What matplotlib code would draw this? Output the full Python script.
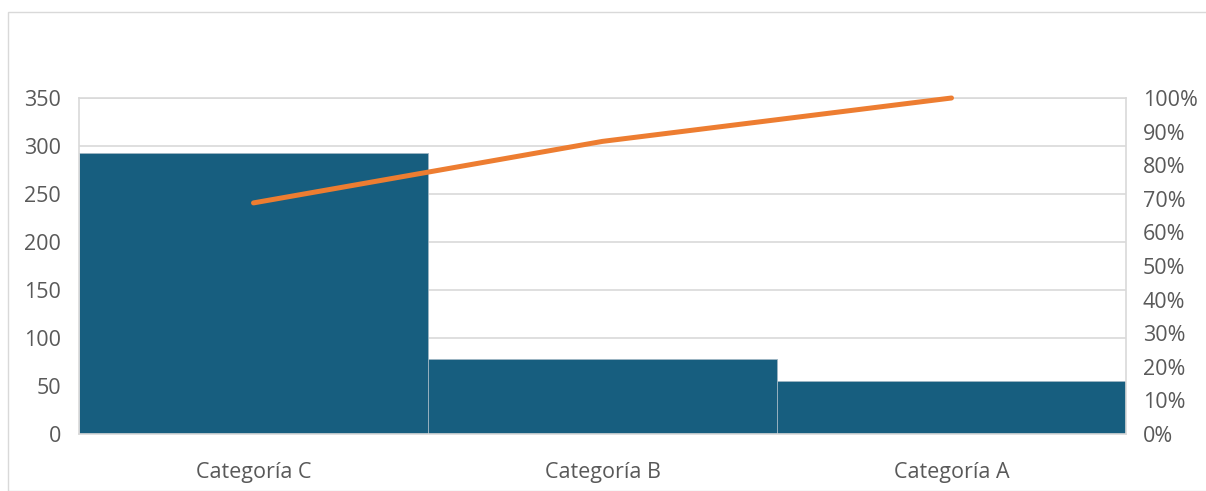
import numpy as np
import matplotlib.pyplot as plt
from matplotlib.patches import Rectangle
from matplotlib.ticker import PercentFormatter

plt.rcParams['font.family'] = ['Open Sans', 'DejaVu Sans']

categories = ['Categoría C', 'Categoría B', 'Categoría A']
values = [293, 78, 55]
cum_pct = np.cumsum(values) / np.sum(values) * 100

bar_color = '#175E7F'
line_color = '#ED7D31'
grid_color = '#D9D9D9'
text_color = '#595959'

fig = plt.figure(figsize=(12.06, 4.91), dpi=100)
fig.patches.append(Rectangle((8 / 1206, 0), 1.0, 1 - 12 / 491, transform=fig.transFigure,
                             fill=False, edgecolor=grid_color, lw=1))
ax = fig.add_axes([79 / 1206, 1 - 434 / 491, (1126 - 79) / 1206, (434 - 98) / 491])

x = np.arange(len(categories))
ax.bar(x, values, width=1.0, color=bar_color, edgecolor='#9FB6C3', linewidth=0.6, zorder=2)
ax.set_xlim(-0.5, len(categories) - 0.5)
ax.set_ylim(0, 350)
ax.set_yticks(np.arange(0, 351, 50))
ax.set_xticks(x)
ax.set_xticklabels(categories)
ax.grid(axis='y', color=grid_color, lw=1.2, zorder=0)
ax.set_axisbelow(True)
for s in ax.spines.values():
    s.set_color(grid_color)
    s.set_linewidth(1.2)
ax.tick_params(axis='both', length=0, colors=text_color, labelsize=15.5)
ax.tick_params(axis='x', pad=20)
ax.tick_params(axis='y', pad=13)

ax2 = ax.twinx()
ax2.plot(x, cum_pct, color=line_color, lw=3.6, solid_capstyle='round', zorder=3, clip_on=False)
ax2.set_ylim(0, 100)
ax2.set_yticks(np.arange(0, 101, 10))
ax2.yaxis.set_major_formatter(PercentFormatter(decimals=0))
ax2.tick_params(axis='y', length=0, colors=text_color, labelsize=15.5, pad=12)
for s in ax2.spines.values():
    s.set_visible(False)

fig.savefig('out.png', dpi=100)
